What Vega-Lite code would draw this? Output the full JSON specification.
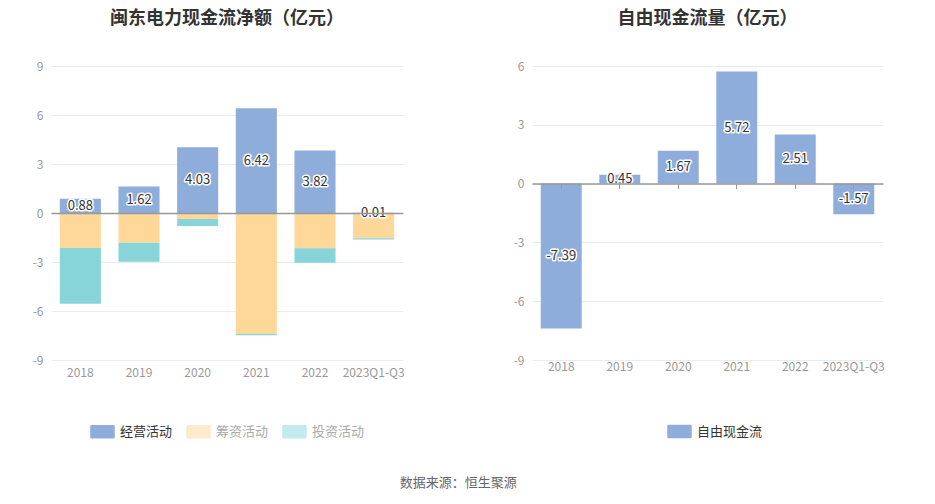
{
  "$schema": "https://vega.github.io/schema/vega-lite/v6.json",
  "padding": {"left": 32, "top": 10, "right": 10, "bottom": 12},
  "background": "white",
  "config": {
    "font": "Noto Sans CJK SC",
    "view": {"stroke": null},
    "axis": {"labelColor": "#999999", "labelFontSize": 12, "titleColor": "#999999", "grid": false},
    "title": {"fontSize": 18, "fontWeight": "bold", "color": "#333333"},
    "legend": {"labelFontSize": 13, "labelColor": "#333333"}
  },
  "title": {"text": "数据来源：恒生聚源", "orient": "bottom", "anchor": "middle", "fontSize": 13, "fontWeight": "normal", "color": "#666666", "offset": 38},
  "datasets": {
    "flows": [
      {"period": "2018", "type": "经营活动", "ord": 0, "value": 0.88},
      {"period": "2018", "type": "筹资活动", "ord": 1, "value": -2.14},
      {"period": "2018", "type": "投资活动", "ord": 2, "value": -3.41},
      {"period": "2019", "type": "经营活动", "ord": 0, "value": 1.62},
      {"period": "2019", "type": "筹资活动", "ord": 1, "value": -1.82},
      {"period": "2019", "type": "投资活动", "ord": 2, "value": -1.16},
      {"period": "2020", "type": "经营活动", "ord": 0, "value": 4.03},
      {"period": "2020", "type": "筹资活动", "ord": 1, "value": -0.37},
      {"period": "2020", "type": "投资活动", "ord": 2, "value": -0.43},
      {"period": "2021", "type": "经营活动", "ord": 0, "value": 6.42},
      {"period": "2021", "type": "筹资活动", "ord": 1, "value": -7.41},
      {"period": "2021", "type": "投资活动", "ord": 2, "value": -0.08},
      {"period": "2022", "type": "经营活动", "ord": 0, "value": 3.82},
      {"period": "2022", "type": "筹资活动", "ord": 1, "value": -2.16},
      {"period": "2022", "type": "投资活动", "ord": 2, "value": -0.88},
      {"period": "2023Q1-Q3", "type": "经营活动", "ord": 0, "value": 0.01},
      {"period": "2023Q1-Q3", "type": "筹资活动", "ord": 1, "value": -1.55},
      {"period": "2023Q1-Q3", "type": "投资活动", "ord": 2, "value": -0.08}
    ],
    "fcf": [
      {"period": "2018", "type": "自由现金流", "value": -7.39},
      {"period": "2019", "type": "自由现金流", "value": 0.45},
      {"period": "2020", "type": "自由现金流", "value": 1.67},
      {"period": "2021", "type": "自由现金流", "value": 5.72},
      {"period": "2022", "type": "自由现金流", "value": 2.51},
      {"period": "2023Q1-Q3", "type": "自由现金流", "value": -1.57}
    ]
  },
  "hconcat": [
    {
      "width": 352,
      "height": 294,
      "title": {"text": "闽东电力现金流净额（亿元）", "offset": 32},
      "data": {"name": "flows"},
      "encoding": {
        "x": {
          "field": "period", "type": "ordinal", "sort": null,
          "scale": {"paddingInner": 0.3, "paddingOuter": 0.15},
          "axis": {"title": null, "labelAngle": 0, "ticks": false, "domain": true, "domainColor": "#999999", "domainWidth": 1.5, "offset": -147, "labelPadding": 154, "zindex": 1}
        }
      },
      "layer": [
        {
          "mark": {"type": "bar"},
          "encoding": {
            "y": {
              "field": "value", "type": "quantitative", "stack": "zero",
              "scale": {"domain": [-9, 9], "nice": false},
              "axis": {"title": null, "values": [-9, -6, -3, 0, 3, 6, 9], "labelExpr": "'' + datum.value", "grid": true, "gridColor": "#e6ebf5", "domain": false, "ticks": false, "labelPadding": 8}
            },
            "color": {
              "field": "type", "type": "nominal",
              "scale": {"domain": ["经营活动", "筹资活动", "投资活动"], "range": ["#8eaddb", "#fed898", "#87d5d9"]},
              "legend": {
                "title": null, "orient": "none", "direction": "horizontal", "legendX": 39, "legendY": 353,
                "symbolType": "M-1,-0.45 Q-1,-0.56 -0.88,-0.56 L0.88,-0.56 Q1,-0.56 1,-0.45 L1,0.45 Q1,0.56 0.88,0.56 L-0.88,0.56 Q-1,0.56 -1,0.45 Z",
                "symbolSize": 600, "symbolStrokeWidth": 0, "columnPadding": 13, "labelOffset": 5,
                "encode": {
                  "symbols": {"update": {"opacity": {"signal": "datum.value === '经营活动' ? 1 : 0.5"}}},
                  "labels": {"update": {"fill": {"signal": "datum.value === '经营活动' ? '#333333' : '#aaaaaa'"}}}
                }
              }
            },
            "order": {"field": "ord", "type": "quantitative"}
          }
        },
        {
          "transform": [{"filter": "datum.type === '经营活动'"}, {"calculate": "datum.value / 2", "as": "mid"}],
          "mark": {"type": "text", "fontSize": 13, "stroke": "white", "strokeWidth": 3, "strokeJoin": "round", "fill": "white"},
          "encoding": {"y": {"field": "mid", "type": "quantitative"}, "text": {"field": "value", "type": "nominal"}}
        },
        {
          "transform": [{"filter": "datum.type === '经营活动'"}, {"calculate": "datum.value / 2", "as": "mid"}],
          "mark": {"type": "text", "fontSize": 13, "fill": "#333333"},
          "encoding": {"y": {"field": "mid", "type": "quantitative"}, "text": {"field": "value", "type": "nominal"}}
        }
      ]
    },
    {
      "width": 351,
      "height": 294,
      "title": {"text": "自由现金流量（亿元）", "offset": 32},
      "data": {"name": "fcf"},
      "encoding": {
        "x": {
          "field": "period", "type": "ordinal", "sort": null,
          "scale": {"paddingInner": 0.3, "paddingOuter": 0.15},
          "axis": {"title": null, "labelAngle": 0, "ticks": true, "tickColor": "#999999", "tickSize": 5, "domain": true, "domainColor": "#999999", "domainWidth": 1.5, "offset": -176.4, "labelPadding": 173, "zindex": 1}
        }
      },
      "layer": [
        {
          "mark": {"type": "bar"},
          "encoding": {
            "y": {
              "field": "value", "type": "quantitative",
              "scale": {"domain": [-9, 6], "nice": false},
              "axis": {"title": null, "values": [-9, -6, -3, 0, 3, 6], "labelExpr": "'' + datum.value", "grid": true, "gridColor": "#e6ebf5", "domain": false, "ticks": false, "labelPadding": 8}
            },
            "color": {
              "field": "type", "type": "nominal",
              "scale": {"domain": ["自由现金流"], "range": ["#8eaddb"]},
              "legend": {
                "title": null, "orient": "none", "direction": "horizontal", "legendX": 135, "legendY": 353,
                "symbolType": "M-1,-0.45 Q-1,-0.56 -0.88,-0.56 L0.88,-0.56 Q1,-0.56 1,-0.45 L1,0.45 Q1,0.56 0.88,0.56 L-0.88,0.56 Q-1,0.56 -1,0.45 Z",
                "symbolSize": 600, "symbolStrokeWidth": 0, "labelOffset": 5
              }
            }
          }
        },
        {
          "transform": [{"calculate": "datum.value / 2", "as": "mid"}],
          "mark": {"type": "text", "fontSize": 13, "stroke": "white", "strokeWidth": 3, "strokeJoin": "round", "fill": "white"},
          "encoding": {"y": {"field": "mid", "type": "quantitative"}, "text": {"field": "value", "type": "nominal"}}
        },
        {
          "transform": [{"calculate": "datum.value / 2", "as": "mid"}],
          "mark": {"type": "text", "fontSize": 13, "fill": "#333333"},
          "encoding": {"y": {"field": "mid", "type": "quantitative"}, "text": {"field": "value", "type": "nominal"}}
        }
      ]
    }
  ],
  "spacing": 108,
  "resolve": {"scale": {"color": "independent", "y": "independent", "x": "independent"}, "legend": {"color": "independent"}}
}
